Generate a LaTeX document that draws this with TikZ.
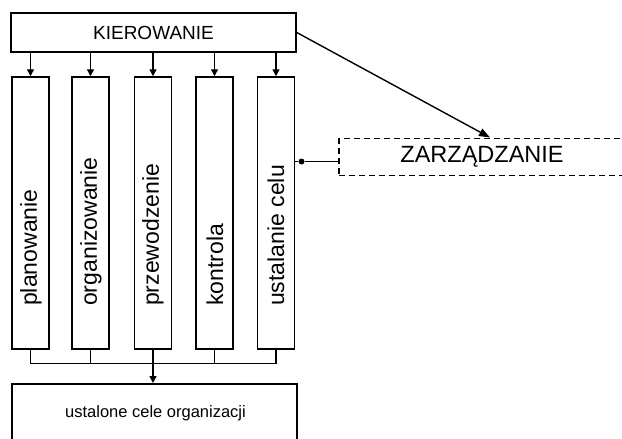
\documentclass[tikz,border=0pt]{standalone}
\usepackage{fontspec}
\setmainfont{Liberation Sans}
\usetikzlibrary{arrows.meta,calc}
\begin{document}
\begin{tikzpicture}[x=1pt,y=-1pt,
  box/.style={draw,line width=1.5pt,inner sep=0pt},
  colbox/.style={box,minimum width=37pt,minimum height=272pt},
  coltext/.style={rotate=90,anchor=west,font=\fontsize{23}{23}\selectfont,inner sep=0pt},
  link/.style={line width=1.4pt},
  tip/.style={-{Triangle[length=7pt,width=7pt]}},
  bigtip/.style={-{Triangle[length=11pt,width=8pt]}},
  dotmark/.style={circle,fill,inner sep=0pt,minimum size=6pt}]
\useasboundingbox (0,0) rectangle (622,439);
\clip (0,0) rectangle (622,439);

% top box
\node[box,minimum width=285pt,minimum height=39pt,font=\fontsize{19}{19}\selectfont] (kier) at (153.5,32.5) {KIEROWANIE};

% five function columns
\node[colbox] (c1) at (30.5,213) {};
\node[colbox] (c2) at (90.5,213) {};
\node[colbox] (c3) at (153,213) {};
\node[colbox] (c4) at (214.5,213) {};
\node[colbox] (c5) at (276,213) {};

\node[coltext] (t1) at (31,306) {planowanie};
\node[coltext] (t2) at (91,306) {organizowanie};
\node[coltext] (t3) at (153,306) {przewodzenie};
\node[coltext] (t4) at (215,306) {kontrola};
\node[coltext] (t5) at (276,306) {ustalanie celu};

% management box (dashed, runs off the right edge)
\node[box,dashed,dash pattern=on 6pt off 4pt,minimum width=292pt,minimum height=37pt,anchor=west] (zarz) at (338,157) {};
\node[font=\fontsize{23.5}{23.5}\selectfont,inner sep=0pt] (zlab) at (482,157) {ZARZĄDZANIE};

% goals box
\node[box,minimum width=285pt,minimum height=80pt,anchor=north] (cele) at (154.5,383) {};
\node[font=\fontsize{16.5}{16.5}\selectfont,inner sep=0pt] (clab) at (155.5,413) {ustalone cele organizacji};

% arrows from the top box to each column
\foreach \i in {1,...,5}
  \draw[link,tip] (kier.south -| c\i.north) -- (c\i.north);

% columns merge into one line
\coordinate (m1) at ($(c1.south)+(0,14)$);
\coordinate (m5) at ($(c5.south)+(0,14)$);
\coordinate (m3) at ($(c3.south)+(0,14)$);
\draw[link] (c1.south) -- (m1) -- (m5) -- (c5.south);
\foreach \i in {2,4}
  \draw[link] (c\i.south) -- (c\i.south |- m1);
\draw[link,tip] (c3.south) -- (m3) -- (cele.north -| c3.south);

% links to the management box
\draw[link,bigtip] (kier.east) -- (490,137.5);
\node[dotmark] (dot) at (301.5,161.5) {};
\draw[link] (c5.east |- dot) -- (dot) -- (zarz.west |- dot);
\end{tikzpicture}
\end{document}
